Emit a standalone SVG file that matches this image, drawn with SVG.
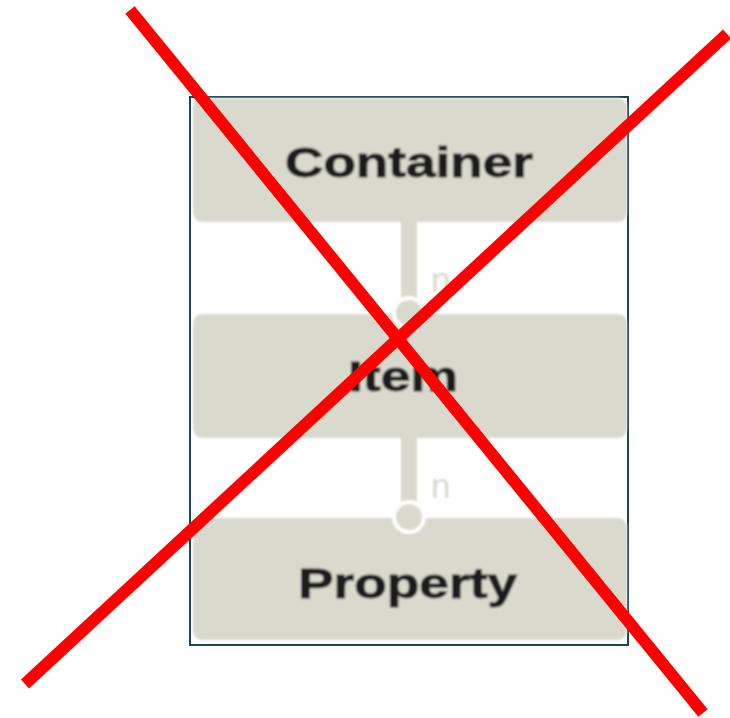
<svg xmlns="http://www.w3.org/2000/svg" width="730" height="718" viewBox="0 0 730 718">
  <defs>
    <filter id="soft" x="-5%" y="-5%" width="110%" height="110%">
      <feGaussianBlur stdDeviation="0.9"/>
    </filter>
  </defs>
  <style>
    .box { fill: #d9d9cd; }
    .lbl { font-family: "Liberation Sans", Arial, sans-serif; font-weight: bold; font-size: 42px; fill: #1c1c1c; stroke: #1c1c1c; stroke-width: 0.9; }
    .conn { stroke: #d9d9cd; stroke-width: 16; fill: none; }
    .dot { fill: #d9d9cd; stroke: #ffffff; stroke-width: 4; }
    .card { font-family: "Liberation Sans", Arial, sans-serif; font-size: 35px; fill: #d9d9cd; }
    .cross { stroke: #ff0000; stroke-width: 12; stroke-linecap: butt; }
  </style>
  <rect x="0" y="0" width="730" height="718" fill="#ffffff"/>
  <rect id="frame" x="190" y="97" width="438" height="548" fill="#ffffff" stroke="#1b4656" stroke-width="2"/>
  <g filter="url(#soft)">
    <g id="container">
      <rect class="box" x="193" y="98" width="434" height="124" rx="9"/>
      <text class="lbl" x="285" y="177" textLength="248" lengthAdjust="spacingAndGlyphs">Container</text>
    </g>
    <g id="item">
      <rect class="box" x="193" y="314" width="434" height="124" rx="9"/>
      <text class="lbl" x="348" y="391" textLength="110" lengthAdjust="spacingAndGlyphs">Item</text>
    </g>
    <g id="property">
      <rect class="box" x="193" y="518" width="434" height="122" rx="9"/>
      <text class="lbl" x="298" y="598" textLength="219" lengthAdjust="spacingAndGlyphs">Property</text>
    </g>
    <g id="connectors">
      <line class="conn" x1="409" y1="221" x2="409" y2="305"/>
      <circle class="dot" cx="409" cy="313" r="15"/>
      <text class="card" x="431" y="292">n</text>
      <line class="conn" x1="409" y1="437" x2="409" y2="510"/>
      <circle class="dot" cx="409" cy="517" r="15"/>
      <text class="card" x="431" y="498">n</text>
    </g>
  </g>
  <g id="cross">
    <line class="cross" x1="130" y1="10" x2="703" y2="713"/>
    <line class="cross" x1="727" y1="34" x2="25" y2="684"/>
  </g>
</svg>
